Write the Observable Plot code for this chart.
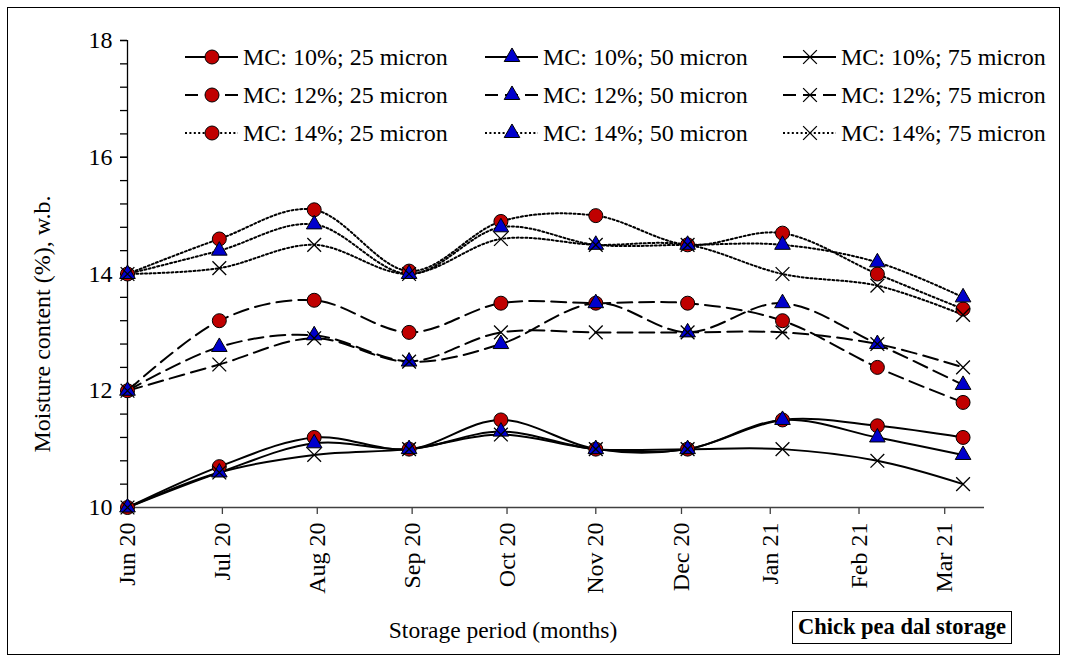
<!DOCTYPE html>
<html>
<head>
<meta charset="utf-8">
<script src="https://cdn.jsdelivr.net/npm/d3@7"></script>
<script src="https://cdn.jsdelivr.net/npm/@observablehq/plot@0.6"></script>
<style>
  body { margin: 0; background: white; }
  #wrap { position: relative; width: 1067px; height: 662px; font-family: "Liberation Serif", "Times New Roman", serif; color: black; }
  #wrap > * { position: absolute; }
  #wrap svg, #wrap svg text { font-family: "Liberation Serif", "Times New Roman", serif !important; }
  .border { left: 7px; top: 7px; width: 1053px; height: 648px; border: 1px solid black; box-sizing: border-box; pointer-events: none; }
  .ytitle { left: 42px; top: 324px; transform: translate(-50%, -50%) rotate(-90deg); font-size: 24px; white-space: nowrap; }
  .xtitle { left: 503px; top: 617px; transform: translateX(-50%); font-size: 23.5px; white-space: nowrap; }
  .box { left: 792px; top: 611px; width: 220px; height: 33px; border: 1.5px solid black; box-sizing: border-box; font-weight: bold; font-size: 22.5px; text-align: center; line-height: 30px; white-space: nowrap; }
</style>
</head>
<body>
<div id="wrap"></div>
<script>
// ---- data ----
const dates = ["2020-06-01","2020-07-01","2020-08-01","2020-09-01","2020-10-01","2020-11-01","2020-12-01","2021-01-01","2021-02-01","2021-03-01"];
const tickDates = ["2020-06-01","2020-07-02","2020-08-02","2020-09-02","2020-10-03","2020-11-01","2020-11-29","2020-12-28","2021-01-26","2021-02-23"];
const tickLabels = ["Jun 20","Jul 20","Aug 20","Sep 20","Oct 20","Nov 20","Dec 20","Jan 21","Feb 21","Mar 21"];
const yMajor = [10, 12, 14, 16, 18];
const yMinor = [10, 10.4, 10.8, 11.2, 11.6, 12, 12.4, 12.8, 13.2, 13.6, 14, 14.4, 14.8, 15.2, 15.6, 16, 16.4, 16.8, 17.2, 17.6, 18];

const mc10_25 = [10, 10.7, 11.2, 11.0, 11.5, 11.0, 11.0, 11.5, 11.4, 11.2];
const mc10_50 = [10, 10.6, 11.1, 11.0, 11.3, 11.0, 11.0, 11.5, 11.2, 10.9];
const mc10_75 = [10, 10.6, 10.9, 11.0, 11.25, 11.0, 11.0, 11.0, 10.8, 10.4];
const mc12_25 = [12, 13.2, 13.55, 13.0, 13.5, 13.5, 13.5, 13.2, 12.4, 11.8];
const mc12_50 = [12, 12.75, 12.95, 12.5, 12.8, 13.5, 13.0, 13.5, 12.8, 12.1];
const mc12_75 = [12, 12.45, 12.9, 12.5, 13.0, 13.0, 13.0, 13.0, 12.8, 12.4];
const mc14_25 = [14, 14.6, 15.1, 14.05, 14.9, 15.0, 14.5, 14.7, 14.0, 13.4];
const mc14_50 = [14, 14.4, 14.85, 14.0, 14.8, 14.5, 14.5, 14.5, 14.2, 13.6];
const mc14_75 = [14, 14.1, 14.5, 14.0, 14.6, 14.5, 14.5, 14.0, 13.8, 13.3];

const seriesNames = [
  "MC: 10%; 25 micron","MC: 10%; 50 micron","MC: 10%; 75 micron",
  "MC: 12%; 25 micron","MC: 12%; 50 micron","MC: 12%; 75 micron",
  "MC: 14%; 25 micron","MC: 14%; 50 micron","MC: 14%; 75 micron"
];
const seriesValues = [mc10_25, mc10_50, mc10_75, mc12_25, mc12_50, mc12_75, mc14_25, mc14_50, mc14_75];

// ---- styles ----
const dashByMC = ["none", "15,7", "2,2.4"];
const markerByFilm = [
  {symbol: "circle", r: 7, fill: "#C00000", stroke: "black", strokeWidth: 1},
  {symbol: "triangle", r: 5.8, fill: "#0000CC", stroke: "black", strokeWidth: 1},
  {symbol: "times", r: 6.3, fill: "none", stroke: "black", strokeWidth: 1.3}
];

const parse = s => new Date(s + "T00:00:00Z");
const start = parse(dates[0]);
const end = new Date(+start + 280 * 86400000);
const labelMap = new Map(tickDates.map((d, i) => [+parse(d), tickLabels[i]]));

const marks = [];
marks.push(Plot.ruleY([10], {stroke: "#404040", strokeWidth: 1.5}));
marks.push(Plot.ruleX([start], {y1: 10, y2: 18, stroke: "black", strokeWidth: 1.3}));
marks.push(Plot.axisY(yMinor, {tickSize: 7, tickFormat: () => "", label: null, stroke: "black", strokeWidth: 1.3}));
marks.push(Plot.axisY(yMajor, {tickSize: 7, tickPadding: 8, fontSize: 24, label: null, strokeWidth: 1.3, tickFormat: d => String(d)}));
marks.push(Plot.axisX(tickDates.map(parse), {
  tickSize: 7, tickPadding: 8, tickRotate: -90, fontSize: 24, label: null,
  tickFormat: d => labelMap.get(+d), stroke: "#404040", strokeWidth: 1.3
}));

seriesValues.forEach((vals, i) => {
  const rows = vals.map((v, j) => ({date: parse(dates[j]), value: v}));
  const mc = Math.floor(i / 3);
  marks.push(Plot.line(rows, {x: "date", y: "value", curve: "cardinal", tension: 0, stroke: "black", strokeWidth: 2, strokeDasharray: dashByMC[mc]}));
});
seriesValues.forEach((vals, i) => {
  const rows = vals.map((v, j) => ({date: parse(dates[j]), value: v}));
  const film = i % 3;
  marks.push(Plot.dot(rows, {x: "date", y: "value", ...markerByFilm[film]}));
});

const chart = Plot.plot({
  width: 1067, height: 662,
  marginLeft: 127, marginRight: 83, marginTop: 40, marginBottom: 155,
  x: {type: "utc", domain: [start, end]},
  y: {domain: [10, 18]},
  style: {fontFamily: "Liberation Serif, serif", fontSize: "24px", color: "black", background: "white", overflow: "visible"},
  marks
});

const wrap = document.getElementById("wrap");
chart.style.left = "0px"; chart.style.top = "0px";
wrap.appendChild(chart);

// ---- legend (3 x 3) ----
const legendCols = [185, 485, 783];
const legendRows = [57, 95, 133];
const leg = d3.create("svg").attr("width", 1067).attr("height", 662)
  .style("left", "0px").style("top", "0px").style("pointer-events", "none");
seriesNames.forEach((name, i) => {
  const mc = Math.floor(i / 3), film = i % 3;
  const x0 = legendCols[film], y0 = legendRows[mc];
  const g = leg.append("g").attr("transform", `translate(${x0},${y0})`);
  g.append("line").attr("x1", 0).attr("x2", 53).attr("y1", 0).attr("y2", 0)
    .attr("stroke", "black").attr("stroke-width", 2)
    .attr("stroke-dasharray", dashByMC[mc] === "none" ? null : (mc === 1 ? "13,7" : dashByMC[mc]));
  const m = markerByFilm[film];
  const sym = {circle: d3.symbolCircle, triangle: d3.symbolTriangle, times: d3.symbolTimes}[m.symbol];
  g.append("path").attr("transform", "translate(27,0)")
    .attr("d", d3.symbol(sym, m.r * m.r * Math.PI)())
    .attr("fill", m.fill).attr("stroke", m.stroke).attr("stroke-width", m.strokeWidth);
  g.append("text").attr("x", 58).attr("y", 0).attr("dy", "0.35em")
    .style("font-size", "24px")
    .text(name);
});
wrap.appendChild(leg.node());

// ---- titles / frame ----
const add = (cls, txt) => { const d = document.createElement("div"); d.className = cls; d.textContent = txt; wrap.appendChild(d); };
add("ytitle", "Moisture content (%), w.b.");
add("xtitle", "Storage period (months)");
add("box", "Chick pea dal storage");
add("border", "");
</script>
</body>
</html>
